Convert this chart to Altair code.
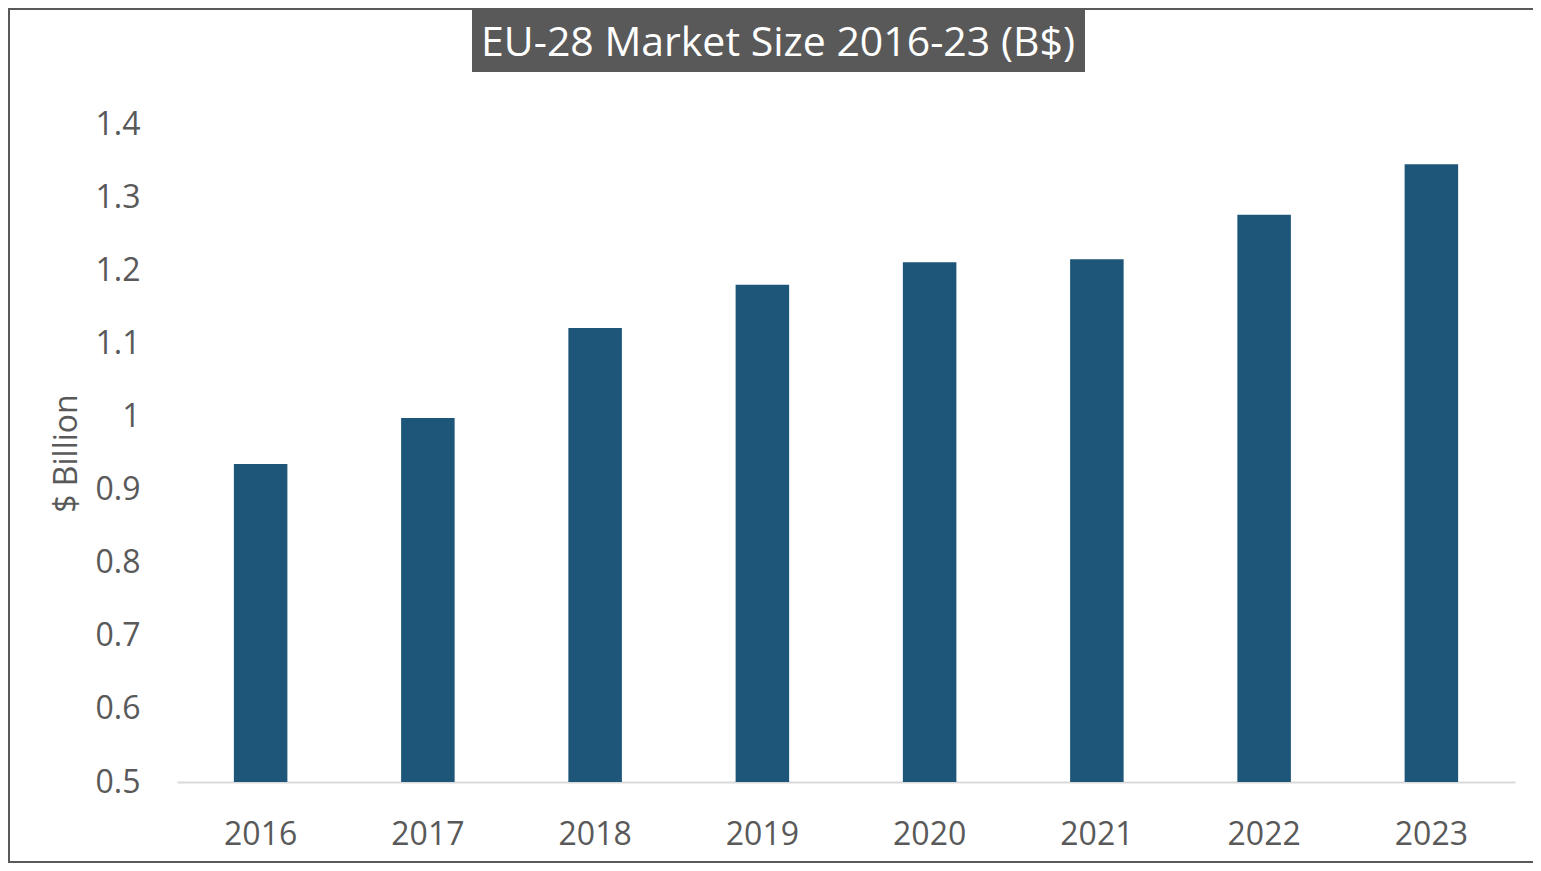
import altair as alt
import pandas as pd

years = ["2016", "2017", "2018", "2019", "2020", "2021", "2022", "2023"]
values = [0.935, 0.998, 1.121, 1.180, 1.211, 1.215, 1.276, 1.345]
y_ticks = [0.5, 0.6, 0.7, 0.8, 0.9, 1.0, 1.1, 1.2, 1.3, 1.4]
title_text = "EU-28 Market Size 2016-23 (B$)"
y_title = "$ Billion"

df = pd.DataFrame({"year": years, "value": values})

FONT = "Open Sans"
GREY = "#595959"
BAR = "#1D5678"

W, H = 1338, 658
PAD = {"left": 169, "top": 116, "right": 18, "bottom": 81}

one = alt.Data(values=[{}])

border = alt.Chart(one).mark_rect(
    fill="transparent", stroke=GREY, strokeWidth=2
).encode(
    x=alt.value(-168), x2=alt.value(W + PAD["right"] + 10),
    y=alt.value(-115), y2=alt.value(H + PAD["bottom"] - 1)
)

title_box = alt.Chart(one).mark_rect(fill=GREY).encode(
    x=alt.value(295), x2=alt.value(908),
    y=alt.value(-116), y2=alt.value(-52)
)

title_txt = alt.Chart(one).mark_text(
    text=title_text, font=FONT, fontSize=41, color="white",
    align="center", baseline="middle"
).encode(x=alt.value(601), y=alt.value(-80))

bars = alt.Chart(df).mark_bar(color=BAR).encode(
    x=alt.X("year:N", sort=years,
            scale=alt.Scale(paddingInner=0.68, paddingOuter=0.34),
            axis=alt.Axis(title=None, labelAngle=0, domain=True,
                          domainColor="#D9D9D9", domainWidth=2,
                          ticks=False, labelPadding=37,
                          labelFontSize=32, labelColor=GREY, labelFont=FONT)),
    y=alt.Y("value:Q",
            scale=alt.Scale(domain=[0.5, 1.4], zero=False, nice=False),
            axis=alt.Axis(title=y_title, values=y_ticks, format=".1~f",
                          domain=False, ticks=False, grid=False,
                          labelPadding=37, labelFontSize=32,
                          labelColor=GREY, labelFont=FONT,
                          titleFontSize=32, titleFont=FONT,
                          titleFontWeight="normal", titleColor=GREY,
                          titlePadding=12)),
    y2=alt.Y2(datum=0.5)
)

chart = alt.layer(border, title_box, title_txt, bars).properties(
    width=W, height=H,
    autosize=alt.AutoSizeParams(type="none"),
    padding=PAD,
    background="white"
).configure_view(stroke=None)

chart.save("out.html", embed_options={"renderer": "svg", "actions": False})
